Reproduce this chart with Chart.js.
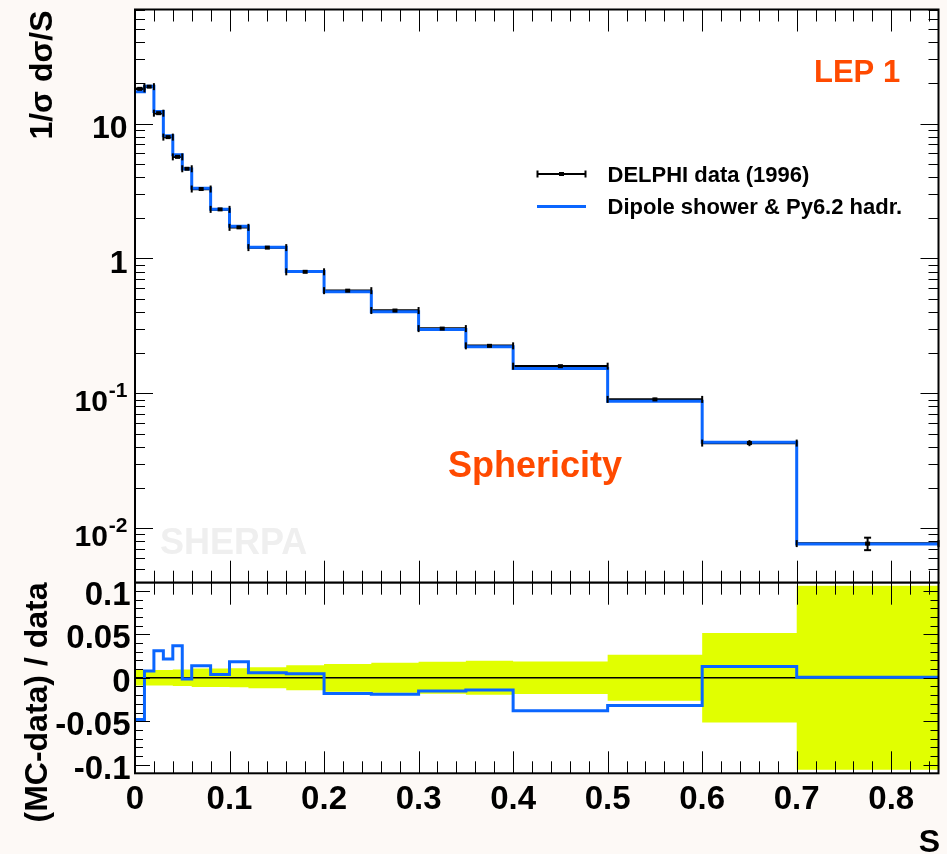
<!DOCTYPE html>
<html>
<head>
<meta charset="utf-8">
<script src="https://cdn.jsdelivr.net/npm/chart.js@4.4.1/dist/chart.umd.min.js"></script>
<style>
  html, body { margin: 0; padding: 0; background: #fdf9f6; }
  #wrap { position: relative; width: 947px; height: 854px; }
  #wrap canvas { position: absolute; left: 0; top: 0; }
</style>
</head>
<body>
<div id="wrap">
  <canvas id="mainChart" width="947" height="854"></canvas>
  <canvas id="ratioChart" width="947" height="854"></canvas>
</div>
<script>
// sphericity bins (bin edges) and values
const binEdges = [0, 0.01, 0.02, 0.03, 0.04, 0.05, 0.06, 0.08, 0.10, 0.12, 0.16, 0.20, 0.25, 0.30, 0.35, 0.40, 0.50, 0.60, 0.70, 0.85];
const delphiData = [18.07, 18.76, 11.93, 7.93, 5.66, 4.62, 3.27, 2.31, 1.70, 1.203, 0.796, 0.577, 0.411, 0.302, 0.225, 0.159, 0.0902, 0.0428, 0.0077];
const dataRelErr = [0.009, 0.009, 0.009, 0.009, 0.0095, 0.0095, 0.0107, 0.0107, 0.011, 0.012, 0.0144, 0.016, 0.0173, 0.0185, 0.0195, 0.0187, 0.0265, 0.0515, 0.106];
const dipoleMC = [17.2, 18.9, 12.3, 8.1, 5.87, 4.61, 3.32, 2.32, 1.73, 1.21, 0.80, 0.567, 0.403, 0.297, 0.222, 0.153, 0.0873, 0.0434, 0.00766];
const mcRatio = [-0.048, 0.0077, 0.031, 0.0215, 0.037, -0.0015, 0.0138, 0.0039, 0.0184, 0.0058, 0.0046, -0.018, -0.019, -0.0153, -0.014, -0.038, -0.032, 0.013, 0.0005];

const xTickValues = [0, 0.1, 0.2, 0.3, 0.4, 0.5, 0.6, 0.7, 0.8];
const xTickLabels = ['0', '0.1', '0.2', '0.3', '0.4', '0.5', '0.6', '0.7', '0.8'];
const logTickValues = [10, 1, 0.1, 0.01];
const logTickLabels = [['10', ''], ['1', ''], ['10', '-1'], ['10', '-2']];
const ratioTickValues = [0.1, 0.05, 0, -0.05, -0.1];
const ratioTickLabels = ['0.1', '0.05', '0', '-0.05', '-0.1'];

const BLUE = '#0a66ff';
const YELLOW = '#e1ff00';
const ORANGE = '#ff4a00';
const FONT = '"Liberation Sans", Arial, Helvetica, sans-serif';

// histogram as stepped line: value i holds from edge i to edge i+1
const stepPoints = (vals) => binEdges.map((e, i) => ({ x: e, y: vals[Math.min(i, vals.length - 1)] }));

const dataSegments = [];
delphiData.forEach((v, i) => {
  dataSegments.push({ x: binEdges[i], y: v }, { x: binEdges[i + 1], y: v }, { x: binEdges[i + 1], y: null });
});

function line(ctx, x1, y1, x2, y2, w) {
  ctx.lineWidth = w;
  ctx.beginPath();
  ctx.moveTo(x1, y1);
  ctx.lineTo(x2, y2);
  ctx.stroke();
}

function drawXTicks(chart) {
  const { ctx, chartArea: a, scales: { x } } = chart;
  ctx.strokeStyle = '#000';
  for (let i = 0; i <= 42; i++) {
    const px = Math.round(x.getPixelForValue(i * 0.02)) + 0.5;
    const len = i % 5 === 0 ? 22 : 12;
    line(ctx, px, a.top, px, a.top + len, 1);
    line(ctx, px, a.bottom, px, a.bottom - len, 1);
  }
}

function drawFrame(chart) {
  const { ctx, chartArea: a } = chart;
  ctx.strokeStyle = '#000';
  ctx.lineWidth = 2;
  ctx.strokeRect(a.left, a.top, a.right - a.left, a.bottom - a.top);
}

const mainPlugin = {
  id: 'mainFrame',
  beforeDraw(chart) {
    const { ctx, chartArea: a } = chart;
    ctx.save();
    ctx.fillStyle = '#fff';
    ctx.fillRect(a.left, a.top, a.right - a.left, a.bottom - a.top);
    ctx.restore();
  },
  beforeDatasetsDraw(chart) {
    const { ctx } = chart;
    ctx.save();
    ctx.fillStyle = '#efefef';
    ctx.font = 'bold 36px ' + FONT;
    ctx.textAlign = 'left';
    ctx.fillText('SHERPA', 160, 554);
    ctx.restore();
  },
  afterDatasetsDraw(chart) {
    const { ctx, scales: { x, y } } = chart;
    ctx.save();
    ctx.strokeStyle = '#000';
    ctx.fillStyle = '#000';
    delphiData.forEach((v, i) => {
      const xl = x.getPixelForValue(binEdges[i]);
      const xr = x.getPixelForValue(binEdges[i + 1]);
      const xc = x.getPixelForValue((binEdges[i] + binEdges[i + 1]) / 2);
      const py = y.getPixelForValue(v);
      line(ctx, xl, py - 3.5, xl, py + 3.5, 2);
      line(ctx, xr, py - 3.5, xr, py + 3.5, 2);
      const yHi = y.getPixelForValue(v * (1 + dataRelErr[i]));
      const yLo = y.getPixelForValue(v * (1 - dataRelErr[i]));
      line(ctx, xc, yHi, xc, yLo, 2);
      if (yLo - yHi > 10) {
        line(ctx, xc - 3.5, yHi, xc + 3.5, yHi, 2);
        line(ctx, xc - 3.5, yLo, xc + 3.5, yLo, 2);
      }
      ctx.fillRect(xc - 2.5, py - 2, 5, 4);
    });
    ctx.restore();
  },
  afterDraw(chart) {
    const { ctx, chartArea: a, scales: { y } } = chart;
    ctx.save();
    drawXTicks(chart);
    // log y ticks, left and right
    ctx.strokeStyle = '#000';
    for (let d = -3; d <= 1; d++) {
      for (let m = 1; m <= 9; m++) {
        const v = m * Math.pow(10, d);
        if (v < y.min || v > y.max) continue;
        const py = Math.round(y.getPixelForValue(v)) + 0.5;
        const len = m === 1 ? 18 : 10;
        line(ctx, a.left, py, a.left + len, py, 1);
        line(ctx, a.right, py, a.right - len, py, 1);
      }
    }
    drawFrame(chart);

    // y tick labels
    ctx.fillStyle = '#000';
    ctx.textAlign = 'right';
    ctx.textBaseline = 'alphabetic';
    logTickValues.forEach((v, i) => {
      const py = y.getPixelForValue(v);
      const [base, sup] = logTickLabels[i];
      if (!sup) {
        ctx.font = 'bold 32px ' + FONT;
        ctx.fillText(base, 127.5, py + 14.5);
      } else {
        ctx.font = 'bold 21px ' + FONT;
        const sw = ctx.measureText(sup).width;
        ctx.fillText(sup, 127.5, py + 4);
        ctx.font = 'bold 30px ' + FONT;
        ctx.fillText(base, 127.5 - sw - 1, py + 17.5);
      }
    });

    // y axis title
    ctx.save();
    ctx.translate(51.5, 75);
    ctx.rotate(-Math.PI / 2);
    ctx.textAlign = 'center';
    ctx.font = 'bold 32px ' + FONT;
    ctx.fillText('1/\u03c3 d\u03c3/S', 0, 0);
    ctx.restore();

    // annotations
    ctx.fillStyle = ORANGE;
    ctx.textAlign = 'left';
    ctx.font = 'bold 31px ' + FONT;
    ctx.fillText('LEP 1', 814, 81.5);
    ctx.font = 'bold 36px ' + FONT;
    ctx.fillText('Sphericity', 448, 476.5);

    // legend
    ctx.strokeStyle = '#000';
    ctx.fillStyle = '#000';
    line(ctx, 537, 174, 586, 174, 2);
    line(ctx, 537.5, 170.5, 537.5, 177.5, 2);
    line(ctx, 585.5, 170.5, 585.5, 177.5, 2);
    ctx.fillRect(559, 172, 5, 4);
    ctx.strokeStyle = BLUE;
    line(ctx, 537, 206.5, 586, 206.5, 3);
    ctx.font = 'bold 22px ' + FONT;
    ctx.fillText('DELPHI data (1996)', 607.5, 181.5);
    ctx.fillText('Dipole shower & Py6.2 hadr.', 607.5, 213.5);
    ctx.restore();
  }
};

const ratioPlugin = {
  id: 'ratioFrame',
  beforeDraw(chart) {
    const { ctx, chartArea: a } = chart;
    ctx.save();
    ctx.fillStyle = '#fff';
    ctx.fillRect(a.left, a.top, a.right - a.left, a.bottom - a.top);
    ctx.restore();
  },
  afterDraw(chart) {
    const { ctx, chartArea: a, scales: { x, y } } = chart;
    ctx.save();
    drawXTicks(chart);
    ctx.strokeStyle = '#000';
    for (let i = -11; i <= 10; i++) {
      const v = i * 0.01;
      if (v < y.min || v > y.max) continue;
      const py = Math.round(y.getPixelForValue(v)) + 0.5;
      const len = i % 5 === 0 ? 15 : 8;
      line(ctx, a.left, py, a.left + len, py, 1);
      line(ctx, a.right, py, a.right - len, py, 1);
    }
    drawFrame(chart);

    ctx.fillStyle = '#000';
    ctx.textBaseline = 'alphabetic';
    ctx.font = 'bold 33px ' + FONT;
    ctx.textAlign = 'right';
    ratioTickValues.forEach((v, i) => {
      ctx.fillText(ratioTickLabels[i], 130.5, y.getPixelForValue(v) + 14);
    });
    ctx.textAlign = 'center';
    xTickValues.forEach((v, i) => {
      ctx.fillText(xTickLabels[i], x.getPixelForValue(v), 809);
    });

    ctx.font = 'bold 32px ' + FONT;
    ctx.textAlign = 'right';
    ctx.fillText('S', 940, 852);

    ctx.save();
    ctx.translate(46.5, 702.5);
    ctx.rotate(-Math.PI / 2);
    ctx.textAlign = 'center';
    ctx.fillText('(MC-data) / data', 0, 0);
    ctx.restore();
    ctx.restore();
  }
};

const baseOptions = (padding, yScale) => ({
  responsive: false,
  animation: false,
  devicePixelRatio: 1,
  events: [],
  layout: { padding },
  scales: {
    x: { type: 'linear', min: binEdges[0], max: binEdges[binEdges.length - 1], display: false },
    y: yScale
  },
  elements: { point: { radius: 0, hitRadius: 0 }, line: { tension: 0 } },
  plugins: { legend: { display: false }, tooltip: { enabled: false } }
});

new Chart(document.getElementById('mainChart'), {
  type: 'line',
  data: {
    datasets: [
      {
        label: 'Dipole shower & Py6.2 hadr.',
        data: stepPoints(dipoleMC),
        stepped: true,
        borderColor: BLUE,
        borderWidth: 3,
        fill: false,
        order: 0
      },
      {
        label: 'DELPHI data (1996)',
        data: dataSegments,
        borderColor: '#000',
        borderWidth: 2.5,
        spanGaps: false,
        fill: false,
        order: 1
      }
    ]
  },
  options: baseOptions(
    { left: 135, right: 8.5, top: 9.5, bottom: 854 - 582.7 },
    { type: 'logarithmic', min: 0.00395, max: 70, display: false }
  ),
  plugins: [mainPlugin]
});

new Chart(document.getElementById('ratioChart'), {
  type: 'line',
  data: {
    datasets: [
      {
        label: 'MC ratio',
        data: stepPoints(mcRatio),
        stepped: true,
        borderColor: BLUE,
        borderWidth: 3,
        fill: false,
        order: 0
      },
      {
        label: 'zero',
        data: [{ x: binEdges[0], y: 0 }, { x: binEdges[binEdges.length - 1], y: 0 }],
        borderColor: '#000',
        borderWidth: 1.5,
        fill: false,
        order: 1
      },
      {
        label: 'data uncertainty',
        data: stepPoints(dataRelErr),
        stepped: true,
        borderColor: 'rgba(0,0,0,0)',
        borderWidth: 1,
        backgroundColor: YELLOW,
        fill: '+1',
        order: 2
      },
      {
        label: 'data uncertainty low',
        data: stepPoints(dataRelErr.map(e => -e)),
        stepped: true,
        borderColor: 'rgba(0,0,0,0)',
        borderWidth: 1,
        fill: false,
        order: 3
      }
    ]
  },
  options: baseOptions(
    { left: 135, right: 8.5, top: 582.7, bottom: 854 - 773.3 },
    { type: 'linear', min: -0.11, max: 0.1095, display: false }
  ),
  plugins: [ratioPlugin]
});
</script>
</body>
</html>
